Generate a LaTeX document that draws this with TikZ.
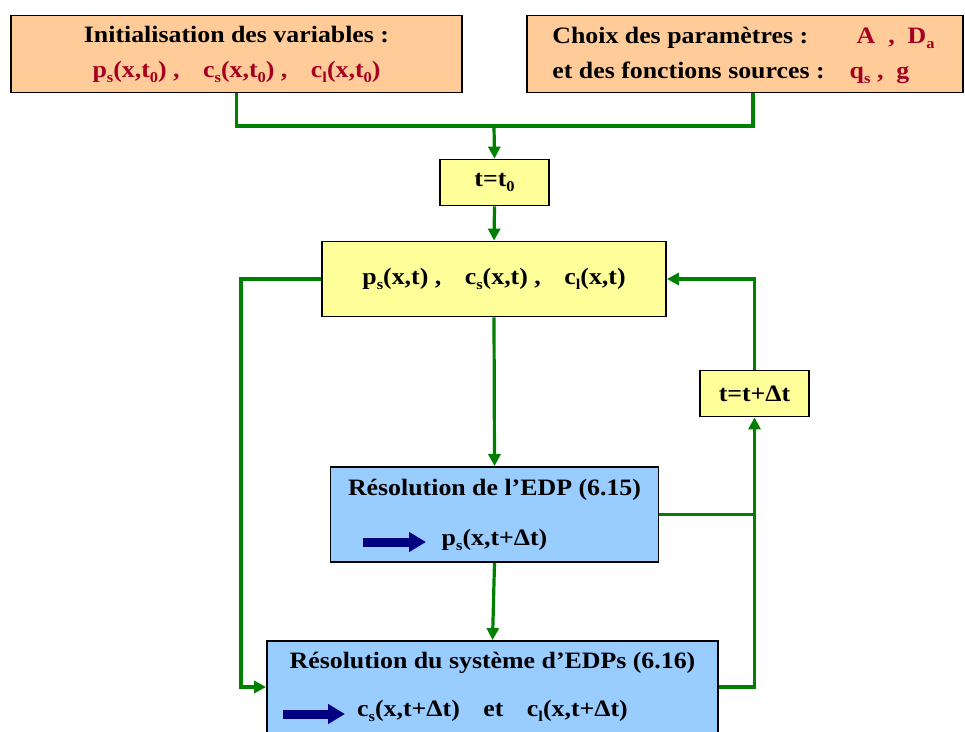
\documentclass[tikz,border=0pt]{standalone}
\usepackage{fontspec}
\setmainfont{Liberation Serif}[FakeStretch=1.1]
\usetikzlibrary{arrows.meta}
\definecolor{peach}{HTML}{FFCC99}
\definecolor{pale}{HTML}{FFFF99}
\definecolor{sky}{HTML}{99CCFF}
\definecolor{wine}{HTML}{A50021}
\definecolor{leaf}{HTML}{008000}
\definecolor{navy}{HTML}{000080}
\newcommand{\sub}[1]{\raisebox{-5pt}{\fontsize{15}{15}\selectfont #1}}
\newcommand{\wine}[1]{\textcolor{wine}{#1}}

\tikzset{
  box/.style={draw, line width=1.8pt, inner sep=0pt, align=center,
    font=\fontsize{23.5}{35}\selectfont\bfseries},
  link/.style={draw=leaf, line width=3.2pt},
  flow/.style={link, -{Triangle[length=12pt,width=12pt]}},
  fat/.style={navy, line width=9pt, -{Triangle[length=17pt,width=19pt]}}
}

\begin{document}
\begin{tikzpicture}[x=1pt,y=-1pt]
\useasboundingbox (0,0) rectangle (965,731);

\node[box, fill=peach, minimum width=451, minimum height=77] (init) at (236.5,54)
  {Initialisation des variables :\\
   \wine{p\sub{s}(x,t\sub{0}) ,\quad c\sub{s}(x,t\sub{0}) ,\quad c\sub{l}(x,t\sub{0})}};
\node[box, fill=peach, minimum width=436, minimum height=77] (choix) at (745,54)
  {\begin{tabular}{@{}l@{\hspace{25pt}}l@{}}
   Choix des paramètres : & \hspace{7pt}\wine{A~~,~~D\sub{a}}\\
   et des fonctions sources : & \wine{q\sub{s}~,~~g}
   \end{tabular}\hspace{3pt}};
\node[box, fill=pale, minimum width=109, minimum height=46] (t0) at (494.5,182.5) {t=t\sub{0}};
\node[box, fill=pale, minimum width=344, minimum height=75] (state) at (494,279)
  {p\sub{s}(x,t) ,\quad c\sub{s}(x,t) ,\quad c\sub{l}(x,t)};
\node[box, fill=pale, minimum width=109, minimum height=46] (tdt) at (754.5,393.5) {t=t+Δt};
\node[box, fill=sky, minimum width=328, minimum height=95] (res1) at (494.5,514.5)
  {Résolution de l’EDP (6.15)\\[15pt] p\sub{s}(x,t+Δt)};
\node[box, fill=sky, minimum width=451, minimum height=92] (res2) at (492.5,687)
  {Résolution du système d’EDPs (6.16)\\[13pt]
   c\sub{s}(x,t+Δt)\quad et\quad c\sub{l}(x,t+Δt)};

\draw[fat] ([shift={(-131.5,27.5)}]res1.center) -- ++(63,0);
\draw[fat] ([shift={(-209.5,27)}]res2.center) -- ++(62,0);

\coordinate (jn) at (494,126);
\coordinate (lft) at (241,279);
\draw[link] (init.south) |- (jn);
\draw[link] ([xshift=8pt]choix.south) |- (jn);
\draw[flow] (jn) -- (t0.north);
\draw[flow] (t0.south) -- (state.north);
\draw[flow] (state.south) -- (res1.north);
\draw[flow] (res1.south) -- (res2.north);
\draw[flow] (res2.east) -| (tdt.south);
\draw[link] (res1.east) -- (res1.east -| tdt.south);
\draw[flow] (tdt.north) |- (state.east);
\draw[flow] (state.west) -- (lft) |- (res2.west);
\end{tikzpicture}
\end{document}
